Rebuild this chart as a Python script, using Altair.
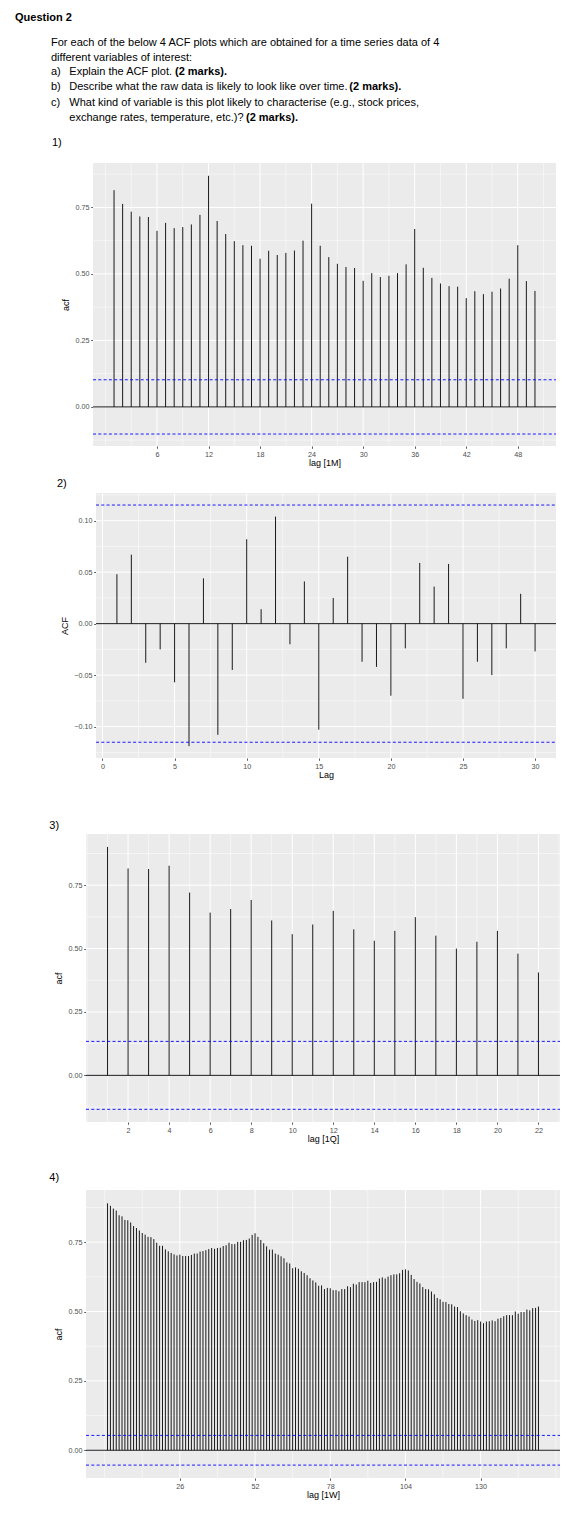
import altair as alt
import pandas as pd

FONT = "Liberation Sans"
PANEL = "#EBEBEB"

# ---------------- text ----------------
title_text = "Question 2"
intro_1 = "For each of the below 4 ACF plots which are obtained for a time series data of 4"
intro_2 = "different variables of interest:"
item_labels = ["a)", "b)", "c)"]
item_a = "Explain the ACF plot."
item_b = "Describe what the raw data is likely to look like over time."
item_c1 = "What kind of variable is this plot likely to characterise (e.g., stock prices,"
item_c2 = "exchange rates, temperature, etc.)?"
marks_text = "(2 marks)."
plot_labels = ["1)", "2)", "3)", "4)"]

# ---------------- plot 1 (monthly) ----------------
lags1 = list(range(1, 51))
acf1 = [0.815, 0.763, 0.734, 0.716, 0.714, 0.662, 0.692, 0.672, 0.676, 0.686,
        0.722, 0.869, 0.699, 0.650, 0.623, 0.608, 0.606, 0.557, 0.587, 0.571,
        0.579, 0.588, 0.625, 0.764, 0.606, 0.563, 0.538, 0.526, 0.522, 0.474,
        0.503, 0.488, 0.493, 0.503, 0.536, 0.669, 0.523, 0.485, 0.464, 0.454,
        0.452, 0.409, 0.435, 0.424, 0.433, 0.445, 0.482, 0.608, 0.473, 0.436]
ci1 = 0.102
xmajor1 = [6, 12, 18, 24, 30, 36, 42, 48]
xminor1 = [0, 3, 9, 15, 21, 27, 33, 39, 45, 51]
ymajor1 = [0.0, 0.25, 0.5, 0.75]
yminor1 = [-0.125, 0.125, 0.375, 0.625, 0.875]

# ---------------- plot 2 ----------------
lags2 = list(range(1, 31))
acf2 = [0.048, 0.067, -0.038, -0.025, -0.057, -0.119, 0.044, -0.108, -0.045, 0.082,
        0.014, 0.104, -0.020, 0.041, -0.103, 0.025, 0.065, -0.037, -0.042, -0.070,
        -0.024, 0.059, 0.036, 0.058, -0.073, -0.037, -0.050, -0.024, 0.029, -0.027]
ci2 = 0.1152
xmajor2 = [0, 5, 10, 15, 20, 25, 30]
xminor2 = [2.5, 7.5, 12.5, 17.5, 22.5, 27.5]
ymajor2 = [-0.10, -0.05, 0.0, 0.05, 0.10]
yminor2 = [-0.125, -0.075, -0.025, 0.025, 0.075, 0.125]

# ---------------- plot 3 (quarterly) ----------------
lags3 = list(range(1, 23))
acf3 = [0.901, 0.816, 0.814, 0.827, 0.721, 0.642, 0.656, 0.692, 0.611, 0.557, 0.595,
        0.649, 0.576, 0.531, 0.570, 0.624, 0.551, 0.500, 0.527, 0.570, 0.480, 0.406]
ci3 = 0.134
xmajor3 = [2, 4, 6, 8, 10, 12, 14, 16, 18, 20, 22]
xminor3 = [0, 1, 3, 5, 7, 9, 11, 13, 15, 17, 19, 21, 23]
ymajor3 = [0.0, 0.25, 0.5, 0.75]
yminor3 = [-0.125, 0.125, 0.375, 0.625, 0.875]

# ---------------- plot 4 (weekly) ----------------
lags4 = list(range(1, 151))
acf4 = [0.890, 0.881, 0.871, 0.864, 0.847, 0.843, 0.830, 0.829, 0.821, 0.808,
        0.801, 0.792, 0.783, 0.777, 0.769, 0.768, 0.761, 0.748, 0.737, 0.737,
        0.724, 0.717, 0.711, 0.706, 0.702, 0.705, 0.700, 0.700, 0.700, 0.704,
        0.709, 0.709, 0.716, 0.718, 0.721, 0.725, 0.729, 0.726, 0.729, 0.730,
        0.736, 0.739, 0.748, 0.743, 0.743, 0.751, 0.751, 0.757, 0.758, 0.763,
        0.776, 0.782, 0.769, 0.758, 0.746, 0.735, 0.723, 0.723, 0.709, 0.705,
        0.699, 0.692, 0.677, 0.673, 0.656, 0.659, 0.654, 0.645, 0.639, 0.631,
        0.620, 0.612, 0.605, 0.593, 0.594, 0.581, 0.585, 0.584, 0.577, 0.577,
        0.573, 0.581, 0.581, 0.591, 0.588, 0.600, 0.597, 0.606, 0.606, 0.606,
        0.611, 0.603, 0.606, 0.607, 0.619, 0.623, 0.619, 0.626, 0.631, 0.634,
        0.634, 0.638, 0.650, 0.652, 0.648, 0.632, 0.617, 0.607, 0.601, 0.588,
        0.581, 0.580, 0.572, 0.562, 0.549, 0.544, 0.535, 0.534, 0.527, 0.526,
        0.518, 0.516, 0.501, 0.493, 0.487, 0.482, 0.471, 0.466, 0.469, 0.464,
        0.458, 0.464, 0.465, 0.468, 0.465, 0.474, 0.477, 0.483, 0.487, 0.487,
        0.487, 0.500, 0.492, 0.498, 0.498, 0.507, 0.504, 0.512, 0.513, 0.518]
ci4 = 0.0535
xmajor4 = [26, 52, 78, 104, 130]
xminor4 = [0, 13, 39, 65, 91, 117, 143, 156]
ymajor4 = [0.0, 0.25, 0.5, 0.75]
yminor4 = [0.125, 0.375, 0.625, 0.875]


def acf_panel(lags, acf, ci, xdom, ydom, xmajor, xminor, ymajor, yminor,
              xtitle, ytitle, dx, w, h):
    xs = alt.Scale(domain=xdom, range=[dx, dx + w], nice=False, zero=False)
    ys = alt.Scale(domain=ydom, nice=False, zero=False)
    common = dict(grid=False, domain=False, tickColor="#333333", tickWidth=0.8,
                  tickSize=2.3, labelColor="#4D4D4D", labelFontSize=7.2,
                  labelFont=FONT, labelPadding=1.8, labelFlush=False,
                  labelOverlap=False, titleFont=FONT, titleFontSize=9,
                  titleFontWeight="normal", titleColor="black")
    xaxis = alt.Axis(values=xmajor, format="d", title=xtitle, titlePadding=1.5,
                     titleX=dx + w / 2, **common)
    yaxis = alt.Axis(values=ymajor, format=".2f", title=ytitle, titlePadding=4,
                     offset=-dx, **common)

    xlo = alt.XDatum(xdom[0], scale=xs, axis=xaxis)
    xhi = alt.X2Datum(xdom[1])

    def hrules(vals, **kw):
        return alt.Chart(pd.DataFrame({"v": vals})).mark_rule(**kw).encode(
            y=alt.Y("v:Q", scale=ys, axis=yaxis), x=xlo, x2=xhi)

    def vrules(vals, **kw):
        return alt.Chart(pd.DataFrame({"v": vals})).mark_rule(**kw).encode(
            x=alt.X("v:Q", scale=xs, axis=xaxis))

    background = alt.Chart(pd.DataFrame({"a": [0]})).mark_rect(color=PANEL).encode(
        x=xlo, x2=xhi,
        y=alt.YDatum(ydom[0], scale=ys, axis=yaxis), y2=alt.Y2Datum(ydom[1]))
    minor_y = hrules(yminor, color="white", strokeWidth=0.5)
    minor_x = vrules(xminor, color="white", strokeWidth=0.5)
    major_y = hrules(ymajor, color="white", strokeWidth=1)
    major_x = vrules(xmajor, color="white", strokeWidth=1)
    zero = hrules([0.0], color="black", strokeWidth=0.9)
    cis = hrules([ci, -ci], color="#0000FF", strokeWidth=0.9, strokeDash=[3, 2.3])
    bars = alt.Chart(pd.DataFrame({"lag": lags, "acf": acf})).mark_rule(
        color="black", strokeWidth=0.9).encode(
        x=alt.X("lag:Q", scale=xs, axis=xaxis),
        y=alt.Y("acf:Q", scale=ys, axis=yaxis),
        y2=alt.datum(0))
    return alt.layer(background, minor_y, minor_x, major_y, major_x, bars,
                     zero, cis).properties(width=dx + w, height=h)


def text_layer(txt, x, y, bold=False, size=11):
    return alt.Chart(pd.DataFrame({"t": [txt]})).mark_text(
        align="left", baseline="middle", font=FONT, fontSize=size,
        fontWeight="bold" if bold else "normal", color="black").encode(
        text="t:N", x=alt.value(x), y=alt.value(y))


header = alt.layer(
    text_layer(title_text, 6, 8.5, bold=True),
    text_layer(intro_1, 42, 34),
    text_layer(intro_2, 42, 48.5),
    text_layer(item_labels[0], 42, 63),
    text_layer(item_a, 60.3, 63),
    text_layer(marks_text, 166, 63, bold=True),
    text_layer(item_labels[1], 42, 78),
    text_layer(item_b, 60.3, 78),
    text_layer(marks_text, 340.3, 78, bold=True),
    text_layer(item_labels[2], 42, 93.5),
    text_layer(item_c1, 60.3, 93.5),
    text_layer(item_c2, 60.3, 109),
    text_layer(marks_text, 237, 109, bold=True),
    text_layer(plot_labels[0], 43, 134),
).properties(width=560, height=154)

p1 = acf_panel(lags1, acf1, ci1, [-1.45, 52.45], [-0.147, 0.917],
               xmajor1, xminor1, ymajor1, yminor1, "lag [1M]", "acf", 84, 463, 283)
p2 = acf_panel(lags2, acf2, ci2, [-0.45, 31.45], [-0.1305, 0.1269],
               xmajor2, xminor2, ymajor2, yminor2, "Lag", "ACF", 87, 460, 265)
p3 = acf_panel(lags3, acf3, ci3, [-0.05, 23.05], [-0.184, 0.952],
               xmajor3, xminor3, ymajor3, yminor3, "lag [1Q]", "acf", 77, 474, 288)
p4 = acf_panel(lags4, acf4, ci4, [-6.45, 157.45], [-0.100, 0.938],
               xmajor4, xminor4, ymajor4, yminor4, "lag [1W]", "acf", 77, 474, 288)

gap2 = text_layer(plot_labels[1], 48, 38).properties(width=560, height=47)
gap3 = text_layer(plot_labels[2], 40.3, 68).properties(width=560, height=76)
gap4 = text_layer(plot_labels[3], 40.3, 55.7).properties(width=560, height=68)

chart = alt.vconcat(header, p1, gap2, p2, gap3, p3, gap4, p4,
                    spacing=0, bounds="flush").configure_view(
    stroke="transparent").properties(padding=0, background="white")

chart.save("out.html", embed_options={"renderer": "svg", "actions": False})
